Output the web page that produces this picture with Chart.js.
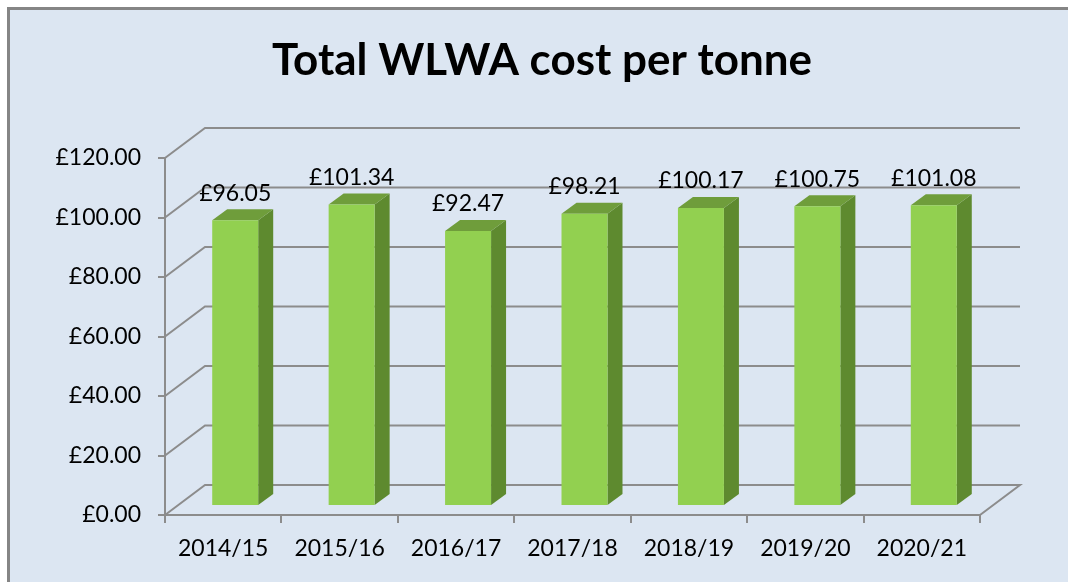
<!DOCTYPE html>
<html><head><meta charset="utf-8">
<script src="https://cdn.jsdelivr.net/npm/chart.js@4"></script>
<style>html,body{margin:0;padding:0;background:#fff;overflow:hidden}#wrap{width:1068px;height:582px;position:relative}</style>
</head><body><div id="wrap"><canvas id="c" width="1068" height="582"></canvas></div>
<script>
const chartTitle = 'Total WLWA cost per tonne';
const categories = ['2014/15', '2015/16', '2016/17', '2017/18', '2018/19', '2019/20', '2020/21'];
const costPerTonne = [96.05, 101.34, 92.47, 98.21, 100.17, 100.75, 101.08];
const yTicks = [0, 20, 40, 60, 80, 100, 120];

const FONT = 'Lato, "Open Sans", sans-serif';
const GRID = '#8c8c8c';
const WALL_DX = 40, WALL_DY = 30;     // perspective offset of back wall
const BAR_SX = 12, BAR_SY = 9;        // bar front face shift from front plane
const BAR_DX = 15, BAR_DY = 11;       // bar depth
const fmt = v => '\u00a3' + v.toFixed(2);

const bgPlugin = {
  id: 'bg',
  beforeDraw(chart) {
    const ctx = chart.ctx;
    ctx.save();
    ctx.fillStyle = '#ffffff';
    ctx.fillRect(0, 0, chart.width, chart.height);
    ctx.fillStyle = '#dce6f2';
    ctx.fillRect(8, 8, chart.width - 8, chart.height - 8);
    ctx.strokeStyle = '#858585';
    ctx.lineWidth = 3;
    ctx.beginPath();
    ctx.moveTo(8.5, chart.height);
    ctx.lineTo(8.5, 8.5);
    ctx.lineTo(chart.width, 8.5);
    ctx.stroke();
    // title
    ctx.fillStyle = '#000';
    ctx.font = 'bold 44px ' + FONT;
    ctx.textAlign = 'center';
    ctx.textBaseline = 'alphabetic';
    const w = ctx.measureText(chartTitle).width;
    const target = 540;
    ctx.translate(542, 75);
    ctx.scale(target / w, 1);
    ctx.fillText(chartTitle, 0, 0);
    ctx.restore();
  }
};

const threeD = {
  id: 'threeD',
  beforeDatasetsDraw(chart) {
    const ctx = chart.ctx;
    const ys = chart.scales.y;
    const L = chart.chartArea.left, R = chart.chartArea.right;
    ctx.save();
    ctx.strokeStyle = GRID;
    ctx.lineWidth = 2;
    ys.ticks.forEach(t => {
      const yf = ys.getPixelForValue(t.value);
      ctx.beginPath();
      ctx.moveTo(L, yf);
      ctx.lineTo(L + WALL_DX, yf - WALL_DY);
      ctx.lineTo(R + WALL_DX, yf - WALL_DY);
      if (t.value === 0) ctx.lineTo(R, yf);
      ctx.stroke();
    });
    ctx.restore();
    // bar side & top faces, and shift for front faces
    ctx.save();
    ctx.translate(BAR_SX, -BAR_SY);
    const meta = chart.getDatasetMeta(0);
    meta.data.forEach(el => {
      const { x, y, base, width } = el.getProps(['x', 'y', 'base', 'width'], true);
      const l = x - width / 2, r = x + width / 2;
      ctx.fillStyle = '#5e8a2f';
      ctx.beginPath();
      ctx.moveTo(r, y); ctx.lineTo(r + BAR_DX, y - BAR_DY);
      ctx.lineTo(r + BAR_DX, base - BAR_DY); ctx.lineTo(r, base);
      ctx.closePath(); ctx.fill();
      ctx.fillStyle = '#6f9d3b';
      ctx.beginPath();
      ctx.moveTo(l, y); ctx.lineTo(l + BAR_DX, y - BAR_DY);
      ctx.lineTo(r + BAR_DX, y - BAR_DY); ctx.lineTo(r, y);
      ctx.closePath(); ctx.fill();
    });
  },
  afterDatasetsDraw(chart) {
    const ctx = chart.ctx;
    ctx.restore();
    ctx.save();
    ctx.fillStyle = '#000';
    ctx.font = '23px ' + FONT;
    ctx.textAlign = 'center';
    ctx.textBaseline = 'middle';
    const meta = chart.getDatasetMeta(0);
    meta.data.forEach((el, i) => {
      ctx.fillText(fmt(costPerTonne[i]), el.x + BAR_SX, el.y - BAR_SY - BAR_DY - 16);
    });
    ctx.restore();
  }
};

new Chart(document.getElementById('c'), {
  type: 'bar',
  data: {
    labels: categories,
    datasets: [{
      data: costPerTonne,
      backgroundColor: '#92d050',
      borderWidth: 0,
      categoryPercentage: 1,
      barPercentage: 0.395,
      clip: false
    }]
  },
  options: {
    responsive: false,
    devicePixelRatio: 1,
    animation: false,
    layout: { padding: { left: 0, top: 158, right: 88, bottom: 0 } },
    plugins: { legend: { display: false }, tooltip: { enabled: false }, title: { display: false } },
    scales: {
      x: {
        type: 'category',
        offset: true,
        grid: { display: true, offset: true, drawOnChartArea: false, drawTicks: true, tickLength: 8, color: GRID, lineWidth: 2 },
        border: { display: true, color: GRID, width: 2 },
        ticks: { color: '#000', font: { family: FONT, size: 23 }, padding: 12, maxRotation: 0 },
        afterFit: s => { s.height = 67; }
      },
      y: {
        min: 0, max: 120,
        afterBuildTicks: s => { s.ticks = yTicks.map(v => ({ value: v })); },
        grid: { display: true, drawOnChartArea: false, drawTicks: true, tickLength: 7, color: GRID, lineWidth: 2 },
        border: { display: true, color: GRID, width: 2 },
        ticks: { color: '#000', font: { family: FONT, size: 23 }, padding: 17, callback: v => fmt(v) },
        afterFit: s => { s.width = 165; }
      }
    }
  },
  plugins: [bgPlugin, threeD]
});
</script>
</body></html>
